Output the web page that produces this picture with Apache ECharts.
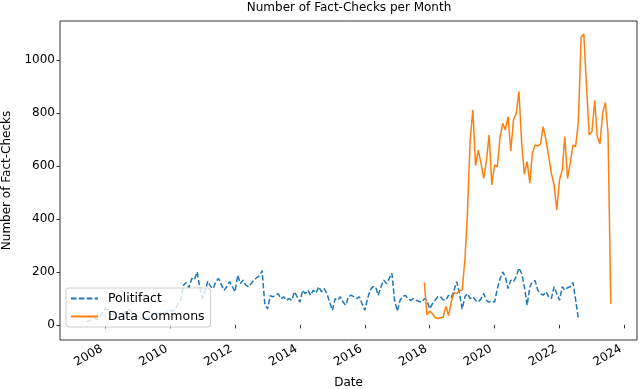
<!DOCTYPE html>
<html>
<head>
<meta charset="utf-8">
<script src="https://cdn.jsdelivr.net/npm/echarts@6/dist/echarts.min.js"></script>
<style>
  html, body { margin: 0; padding: 0; background: #fff; }
  #chart { width: 640px; height: 389px; }
</style>
</head>
<body>
<div id="chart"></div>
<script>
const FONT = 'DejaVu Sans';

// monthly counts, first month given as [year, month]
const politifactStart = [2007, 6];
const politifactValues = [
  12, 15, 20, 25, 20, 30, 45, 64, 50, 40, 35, 30,
  28, 35, 45, 55, 57, 45, 40, 30, 25, 22, 25, 30,
  35, 40, 45, 42, 40, 45, 50, 55, 52, 60, 80, 94,
  150, 160, 140, 175, 170, 200, 140, 100, 130, 165, 145, 137,
  165, 175, 150, 130, 145, 163, 145, 125, 188, 156, 169, 150,
  144, 156, 169, 178, 185, 205, 80, 60, 110, 106, 112, 118,
  99, 106, 93, 99, 93, 125, 106, 86, 131, 118, 131, 112,
  131, 120, 144, 125, 137, 118, 86, 55, 99, 93, 106, 86,
  74, 106, 112, 106, 99, 106, 80, 55, 99, 131, 144, 144,
  112, 144, 169, 156, 175, 195, 93, 52, 93, 106, 112, 99,
  93, 99, 93, 89, 86, 99, 93, 61, 80, 93, 106, 106,
  95, 93, 112, 103, 131, 163, 120, 60, 106, 118, 99, 106,
  93, 86, 99, 118, 93, 86, 90, 86, 137, 172, 200, 182,
  137, 169, 163, 182, 215, 194, 144, 74, 144, 163, 167, 131,
  118, 112, 125, 106, 99, 144, 118, 93, 144, 131, 140, 144,
  160, 95, 23
];

const dataCommonsStart = [2017, 11];
const dataCommonsValues = [
  160, 38, 52, 42, 28, 24, 27, 29, 70, 35,
  88, 122, 118, 130, 132, 245, 420, 698, 811, 601,
  660, 610, 553, 620, 717, 528, 604, 597, 704, 761,
  736, 786, 657, 774, 799, 881, 686, 569, 616, 535,
  648, 679, 675, 683, 748, 698, 635, 572, 528, 434,
  547, 585, 711, 553, 610, 679, 673, 767, 1086, 1098,
  899, 717, 730, 847, 711, 683, 799, 839, 723, 80
];

const yearTicks = [2008, 2010, 2012, 2014, 2016, 2018, 2020, 2022, 2024];
const countTicks = [0, 200, 400, 600, 800, 1000];

function monthSeries(start, values) {
  return values.map((v, i) => [Date.UTC(start[0], start[1] - 1 + i, 1), v]);
}

const yearStamps = yearTicks.map(y => Date.UTC(y, 0, 1));

const chart = echarts.init(document.getElementById('chart'));

chart.setOption({
  animation: false,
  textStyle: { fontFamily: FONT },
  title: {
    text: 'Number of Fact-Checks per Month',
    left: 349,
    textAlign: 'center',
    top: 0,
    padding: [2, 0, 0, 0],
    textStyle: { fontFamily: FONT, fontSize: 12, fontWeight: 'normal', color: '#000' },
  },
  grid: {
    left: 60, right: 3, top: 21, bottom: 49,
    outerBoundsMode: 'none',
    containLabel: false,
    show: true, borderColor: '#000', borderWidth: 0.8,
  },
  legend: {
    orient: 'vertical',
    left: 66,
    top: 288,
    data: ['Politifact', 'Data Commons'],
    itemWidth: 27,
    itemHeight: 14,
    itemGap: 5,
    padding: [4, 6, 4, 4],
    backgroundColor: 'rgba(255,255,255,0.8)',
    borderColor: '#cccccc',
    borderWidth: 1,
    borderRadius: 3,
    itemStyle: { opacity: 0 },
    textStyle: { fontFamily: FONT, fontSize: 12.5, color: '#000', padding: [0, 0, 0, 5] },
  },
  xAxis: {
    type: 'value',
    min: Date.UTC(2006, 7, 10),
    max: Date.UTC(2024, 4, 22),
    name: 'Date',
    nameLocation: 'middle',
    nameGap: 37,
    nameTextStyle: { fontFamily: FONT, fontSize: 12, color: '#000' },
    axisLine: { show: false },
    axisTick: { show: true, length: 3.5, customValues: yearStamps, lineStyle: { color: '#000', width: 0.8 } },
    axisLabel: {
      customValues: yearStamps,
      rotate: 30,
      margin: 6,
      padding: [0, 4, 0, 0],
      fontFamily: FONT,
      fontSize: 12,
      color: '#000',
      formatter: v => String(new Date(v).getUTCFullYear()),
    },
    splitLine: { show: false },
  },
  yAxis: {
    type: 'value',
    min: -57,
    max: 1147,
    name: 'Number of Fact-Checks',
    nameLocation: 'middle',
    nameGap: 47,
    nameTextStyle: { fontFamily: FONT, fontSize: 12, color: '#000' },
    axisLine: { show: false },
    axisTick: { show: true, length: 3.5, customValues: countTicks, lineStyle: { color: '#000', width: 0.8 } },
    axisLabel: {
      customValues: countTicks, margin: 5, fontFamily: FONT, fontSize: 12, color: '#000',
      formatter: v => String(v),
    },
    splitLine: { show: false },
  },
  series: [
    {
      name: 'Politifact',
      type: 'line',
      data: monthSeries(politifactStart, politifactValues),
      symbol: 'none',
      lineStyle: { color: '#1f77b4', width: 1.5, type: [5.5, 2.4] },
      itemStyle: { color: '#1f77b4' },
    },
    {
      name: 'Data Commons',
      type: 'line',
      data: monthSeries(dataCommonsStart, dataCommonsValues),
      symbol: 'none',
      lineStyle: { color: '#ff7f0e', width: 1.5 },
      itemStyle: { color: '#ff7f0e' },
    },
  ],
});
</script>
</body>
</html>
